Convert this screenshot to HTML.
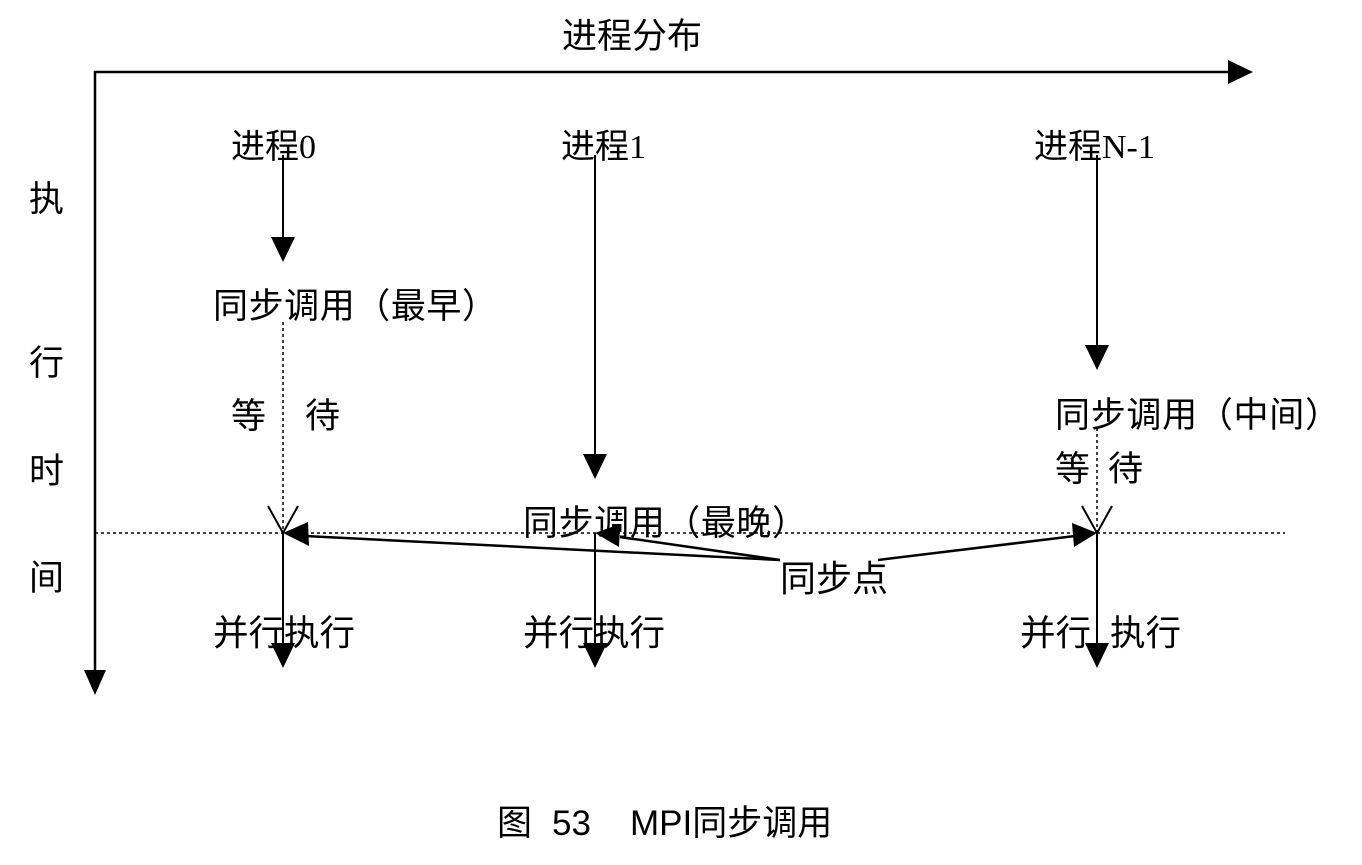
<!DOCTYPE html>
<html><head><meta charset="utf-8"><style>
html,body{margin:0;padding:0;background:#fff;}
svg{display:block;}
text{font-family:"Liberation Sans","Noto Sans CJK SC",sans-serif;fill:#000;}
.s{font-family:"Liberation Serif","Noto Sans CJK SC",serif;}
</style></head><body>
<svg width="1362" height="865" viewBox="0 0 1362 865" xmlns="http://www.w3.org/2000/svg">
<g stroke="#000" fill="none">
<polyline points="1230,72 95,72 95,672" stroke-width="2.5"/>
<line x1="95" y1="533" x2="1285" y2="533" stroke-width="1.5" stroke-dasharray="3,3"/>
<line x1="283" y1="155" x2="283" y2="240" stroke-width="2"/>
<line x1="595" y1="155" x2="595" y2="458" stroke-width="2"/>
<line x1="1097" y1="155" x2="1097" y2="348" stroke-width="2"/>
<line x1="283" y1="322" x2="283" y2="533" stroke-width="1.5" stroke-dasharray="3,3"/>
<line x1="1097" y1="428" x2="1097" y2="533" stroke-width="1.5" stroke-dasharray="3,3"/>
<polyline points="268,506 283,533 298,506" stroke-width="2"/>
<polyline points="1082,506 1097,533 1112,506" stroke-width="2"/>
<line x1="283" y1="533" x2="283" y2="645" stroke-width="2"/>
<line x1="595" y1="533" x2="595" y2="645" stroke-width="2"/>
<line x1="1097" y1="533" x2="1097" y2="645" stroke-width="2"/>
<line x1="780" y1="560" x2="305" y2="536" stroke-width="2.5"/>
<line x1="780" y1="560" x2="620" y2="537" stroke-width="2.5"/>
<line x1="878" y1="560" x2="1075" y2="536" stroke-width="2.5"/>
</g>
<g fill="#000">
<polygon points="1228,60 1253,72 1228,84"/>
<polygon points="84,670 106,670 95,695"/>
<polygon points="271,237 295,237 283,262"/>
<polygon points="583,454 607,454 595,479"/>
<polygon points="1085,345 1109,345 1097,370"/>
<polygon points="271,643 295,643 283,668"/>
<polygon points="583,643 607,643 595,668"/>
<polygon points="1085,643 1109,643 1097,668"/>
<polygon points="283,533 308,522 309,546"/>
<polygon points="595,533 620,524 619,547"/>
<polygon points="1097,533 1072,523 1074,547"/>
</g>
<text x="562" y="48" font-size="35">进程分布</text>
<text x="231" y="158" font-size="34">进程<tspan class="s">0</tspan></text>
<text x="561" y="158" font-size="34">进程<tspan class="s">1</tspan></text>
<text x="1034" y="158" font-size="34">进程<tspan class="s">N-1</tspan></text>
<text x="29" y="211" font-size="35">执</text>
<text x="29" y="375" font-size="35">行</text>
<text x="29" y="483" font-size="35">时</text>
<text x="29" y="590" font-size="35">间</text>
<text x="213" y="318" font-size="35" textLength="284">同步调用（最早）</text>
<text x="231" y="428" font-size="35">等</text>
<text x="305" y="428" font-size="35">待</text>
<text x="1055" y="427" font-size="35" textLength="285">同步调用（中间）</text>
<text x="1055" y="481" font-size="35">等</text>
<text x="1108" y="481" font-size="35">待</text>
<text x="523" y="535" font-size="35" textLength="284">同步调用（最晚）</text>
<text x="780" y="591" font-size="36">同步点</text>
<text x="213" y="645" font-size="35.5">并行执行</text>
<text x="523" y="645" font-size="35.5">并行执行</text>
<text x="1020" y="645" font-size="35.5">并行</text>
<text x="1110" y="645" font-size="35.5">执行</text>
<text x="497" y="835" font-size="35">图</text>
<text x="552" y="835" font-size="35">53</text>
<text x="630" y="835" font-size="35">MPI同步调用</text>
</svg>
</body></html>
